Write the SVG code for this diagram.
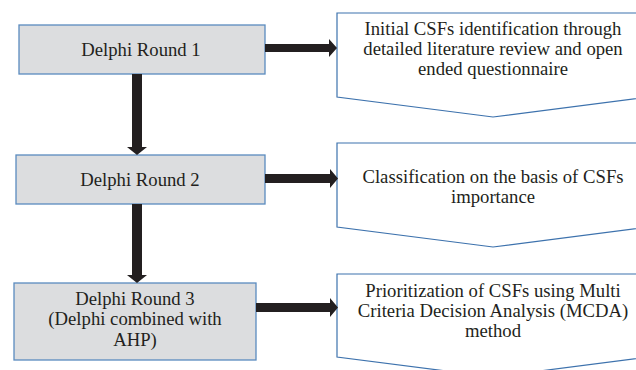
<svg xmlns="http://www.w3.org/2000/svg" width="636" height="370" viewBox="0 0 636 370">
<defs>
<style>
.box{fill:#dcdddf;stroke:#5a8bbf;stroke-width:1.3}
.chev{fill:#ffffff;stroke:#3d72ad;stroke-width:1.2}
.arr{fill:#231f20;stroke:none}
text{font-family:"Liberation Serif","Times New Roman",serif;font-size:18.7px;fill:#231f20;text-anchor:middle}
</style>
</defs>
<rect width="636" height="370" fill="#ffffff"/>
<g id="round1">
<rect class="box" x="19" y="25" width="246" height="49"/>
<text x="141" y="56">Delphi Round 1</text>
</g>
<g id="round2">
<rect class="box" x="16" y="155" width="249" height="49"/>
<text x="140" y="186">Delphi Round 2</text>
</g>
<g id="round3">
<rect class="box" x="14" y="283" width="242" height="77"/>
<text x="135" y="305">Delphi Round 3</text>
<text x="135" y="325">(Delphi combined with</text>
<text x="135" y="346">AHP)</text>
</g>
<g id="step1">
<polygon class="chev" points="337,13 649,13 649,97 493,117 337,97"/>
<text x="493" y="35">Initial CSFs identification through</text>
<text x="493" y="55">detailed literature review and open</text>
<text x="493" y="75">ended questionnaire</text>
</g>
<g id="step2">
<polygon class="chev" points="337,143 649,143 649,227 493,247 337,227"/>
<text x="493" y="183">Classification on the basis of CSFs</text>
<text x="493" y="203">importance</text>
</g>
<g id="step3">
<polygon class="chev" points="337,274 649,274 649,357 493,377 337,357"/>
<text x="493" y="297">Prioritization of CSFs using Multi</text>
<text x="493" y="317">Criteria Decision Analysis (MCDA)</text>
<text x="493" y="337">method</text>
</g>
<g id="connectors">
<polygon class="arr" points="132,74 142,74 142,147 147,147 137,155 127,147 132,147"/>
<polygon class="arr" points="132,204 142,204 142,275 147,275 137,283 127,275 132,275"/>
<polygon class="arr" points="265,44 329,44 329,39 337,48 329,57 329,52 265,52"/>
<polygon class="arr" points="265,174 330,174 330,169 338,178.5 330,188 330,183 265,183"/>
<polygon class="arr" points="256,303 330,303 330,298 338,307.5 330,317 330,312 256,312"/>
</g>
</svg>
